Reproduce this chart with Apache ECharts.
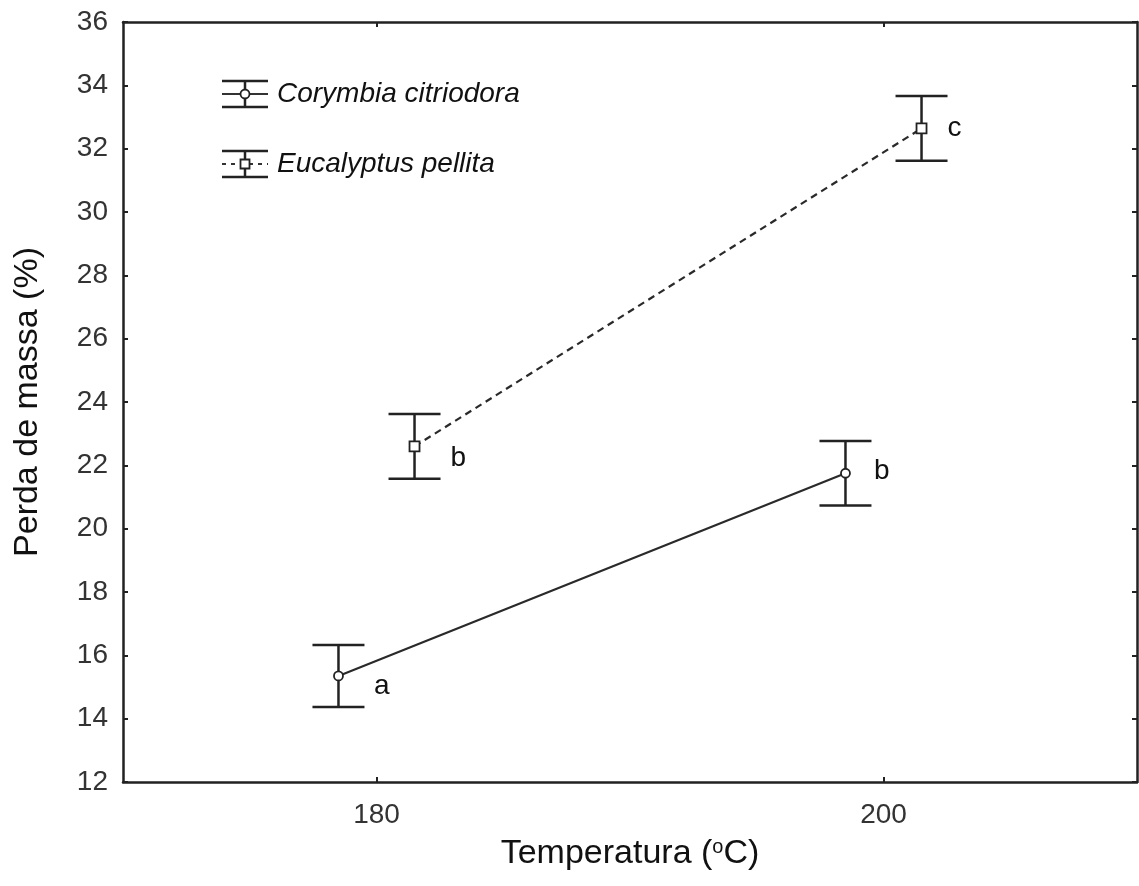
<!DOCTYPE html>
<html>
<head>
<meta charset="utf-8">
<script src="https://cdn.jsdelivr.net/npm/echarts@6/dist/echarts.min.js"></script>
<style>
html,body{margin:0;padding:0;background:#fff;}
#chart{width:1139px;height:886px;}
</style>
</head>
<body>
<div id="chart"></div>
<script>
// ---- data ----
const tempTicks = [180, 200];
const corymbiaX = [178.5, 198.5];
const eucalyptusX = [181.5, 201.5];
const corymbiaMean = [15.35, 21.75];
const corymbiaErr = [0.98, 1.02];
const eucalyptusMean = [22.6, 32.64];
const eucalyptusErr = [1.02, 1.02];
const corymbiaLetters = ['a', 'b'];
const eucalyptusLetters = ['b', 'c'];
const seriesNames = ['Corymbia citriodora', 'Eucalyptus pellita'];

// ---- styling ----
const FONT = '"Liberation Sans", Arial, sans-serif';
const INK = '#222';
const corymbiaLabelShift = [[30, 10], [23, -2]];
const eucalyptusLabelShift = [[30, 12], [20, 0]];

function errData(xs, means, errs) {
  return xs.map((x, i) => [x, means[i] - errs[i], means[i] + errs[i]]);
}
function lineData(xs, means, shifts) {
  return xs.map((x, i) => ({ value: [x, means[i]], label: { offset: shifts[i] } }));
}
function errRender(params, api) {
  const x = api.value(0);
  const lo = api.coord([x, api.value(1)]);
  const hi = api.coord([x, api.value(2)]);
  const hw = 26;
  const st = { stroke: INK, lineWidth: 2.5 };
  return {
    type: 'group',
    children: [
      { type: 'line', shape: { x1: lo[0], y1: lo[1], x2: hi[0], y2: hi[1] }, style: st },
      { type: 'line', shape: { x1: hi[0] - hw, y1: hi[1], x2: hi[0] + hw, y2: hi[1] }, style: st },
      { type: 'line', shape: { x1: lo[0] - hw, y1: lo[1], x2: lo[0] + hw, y2: lo[1] }, style: st }
    ]
  };
}

function legendItem(top, name, dashed, symbol) {
  const cx = 245, cy = top;
  const st = { stroke: INK, lineWidth: 2.5 };
  const children = [
    { type: 'line', shape: { x1: 222, y1: cy - 13, x2: 268, y2: cy - 13 }, style: st },
    { type: 'line', shape: { x1: 222, y1: cy + 13, x2: 268, y2: cy + 13 }, style: st },
    { type: 'line', shape: { x1: cx, y1: cy - 13, x2: cx, y2: cy + 13 }, style: st },
    { type: 'line', shape: { x1: 222, y1: cy, x2: 268, y2: cy },
      style: { stroke: '#333', lineWidth: 1.8, lineDash: dashed ? [4, 5] : null } },
    symbol === 'circle'
      ? { type: 'circle', shape: { cx: cx, cy: cy, r: 4.5 }, style: { fill: '#fff', stroke: INK, lineWidth: 1.8 } }
      : { type: 'rect', shape: { x: cx - 4.5, y: cy - 4.5, width: 9, height: 9 }, style: { fill: '#fff', stroke: INK, lineWidth: 1.8 } },
    { type: 'text', style: { x: 277, y: cy, text: name, fill: '#111', font: 'italic 28px ' + FONT, verticalAlign: 'middle' } }
  ];
  return { type: 'group', children: children };
}

const chart = echarts.init(document.getElementById('chart'));
chart.setOption({
  backgroundColor: '#fff',
  animation: false,
  grid: { left: 123, right: 2, top: 22, bottom: 104 },
  xAxis: [
    {
      type: 'value', min: 170, max: 210, position: 'bottom',
      name: 'Temperatura ({sup|o}C)', nameLocation: 'middle', nameGap: 55,
      nameTextStyle: {
        fontFamily: FONT, fontSize: 34, color: '#111',
        rich: { sup: { fontFamily: FONT, fontSize: 20, color: '#111', verticalAlign: 'top', padding: [0, 0, 12, 0] } }
      },
      axisLine: { show: true, lineStyle: { color: INK, width: 2.5 } },
      axisTick: { show: true, inside: true, length: 5, customValues: tempTicks, lineStyle: { color: INK, width: 2 } },
      axisLabel: { customValues: tempTicks, margin: 19, fontFamily: FONT, fontSize: 28, color: '#333' },
      splitLine: { show: false }
    },
    {
      type: 'value', min: 170, max: 210, position: 'top',
      axisLine: { show: true, onZero: false, lineStyle: { color: INK, width: 2.5 } },
      axisTick: { show: true, inside: true, length: 5, customValues: tempTicks, lineStyle: { color: INK, width: 2 } },
      axisLabel: { show: false },
      splitLine: { show: false }
    }
  ],
  yAxis: [
    {
      type: 'value', min: 12, max: 36, interval: 2, position: 'left',
      name: 'Perda de massa (%)', nameLocation: 'middle', nameGap: 78,
      nameTextStyle: { fontFamily: FONT, fontSize: 34, color: '#111' },
      axisLine: { show: true, lineStyle: { color: INK, width: 2.5 } },
      axisTick: { show: true, inside: true, length: 5, lineStyle: { color: INK, width: 2 } },
      axisLabel: { margin: 15, fontFamily: FONT, fontSize: 28, color: '#333' },
      splitLine: { show: false }
    },
    {
      type: 'value', min: 12, max: 36, interval: 2, position: 'right',
      axisLine: { show: true, onZero: false, lineStyle: { color: INK, width: 2.5 } },
      axisTick: { show: true, inside: true, length: 5, lineStyle: { color: INK, width: 2 } },
      axisLabel: { show: false },
      splitLine: { show: false }
    }
  ],
  series: [
    {
      type: 'custom', name: seriesNames[0] + ' err', xAxisIndex: 0, yAxisIndex: 0,
      renderItem: errRender, data: errData(corymbiaX, corymbiaMean, corymbiaErr), z: 2
    },
    {
      type: 'custom', name: seriesNames[1] + ' err', xAxisIndex: 0, yAxisIndex: 0,
      renderItem: errRender, data: errData(eucalyptusX, eucalyptusMean, eucalyptusErr), z: 2
    },
    {
      type: 'line', name: seriesNames[0], z: 3,
      data: lineData(corymbiaX, corymbiaMean, corymbiaLabelShift),
      symbol: 'circle', symbolSize: 9,
      lineStyle: { color: '#2a2a2a', width: 2.2 },
      itemStyle: { color: '#fff', borderColor: INK, borderWidth: 1.8 },
      label: {
        show: true, position: 'right', distance: 0,
        formatter: (p) => corymbiaLetters[p.dataIndex],
        fontFamily: FONT, fontSize: 28, color: '#111'
      }
    },
    {
      type: 'line', name: seriesNames[1], z: 3,
      data: lineData(eucalyptusX, eucalyptusMean, eucalyptusLabelShift),
      symbol: 'rect', symbolSize: 10,
      lineStyle: { color: '#2a2a2a', width: 2.2, type: [7, 5] },
      itemStyle: { color: '#fff', borderColor: INK, borderWidth: 1.8 },
      label: {
        show: true, position: 'right', distance: 0,
        formatter: (p) => eucalyptusLetters[p.dataIndex],
        fontFamily: FONT, fontSize: 28, color: '#111'
      }
    }
  ],
  graphic: [
    legendItem(94, seriesNames[0], false, 'circle'),
    legendItem(164, seriesNames[1], true, 'rect')
  ]
});
</script>
</body>
</html>
